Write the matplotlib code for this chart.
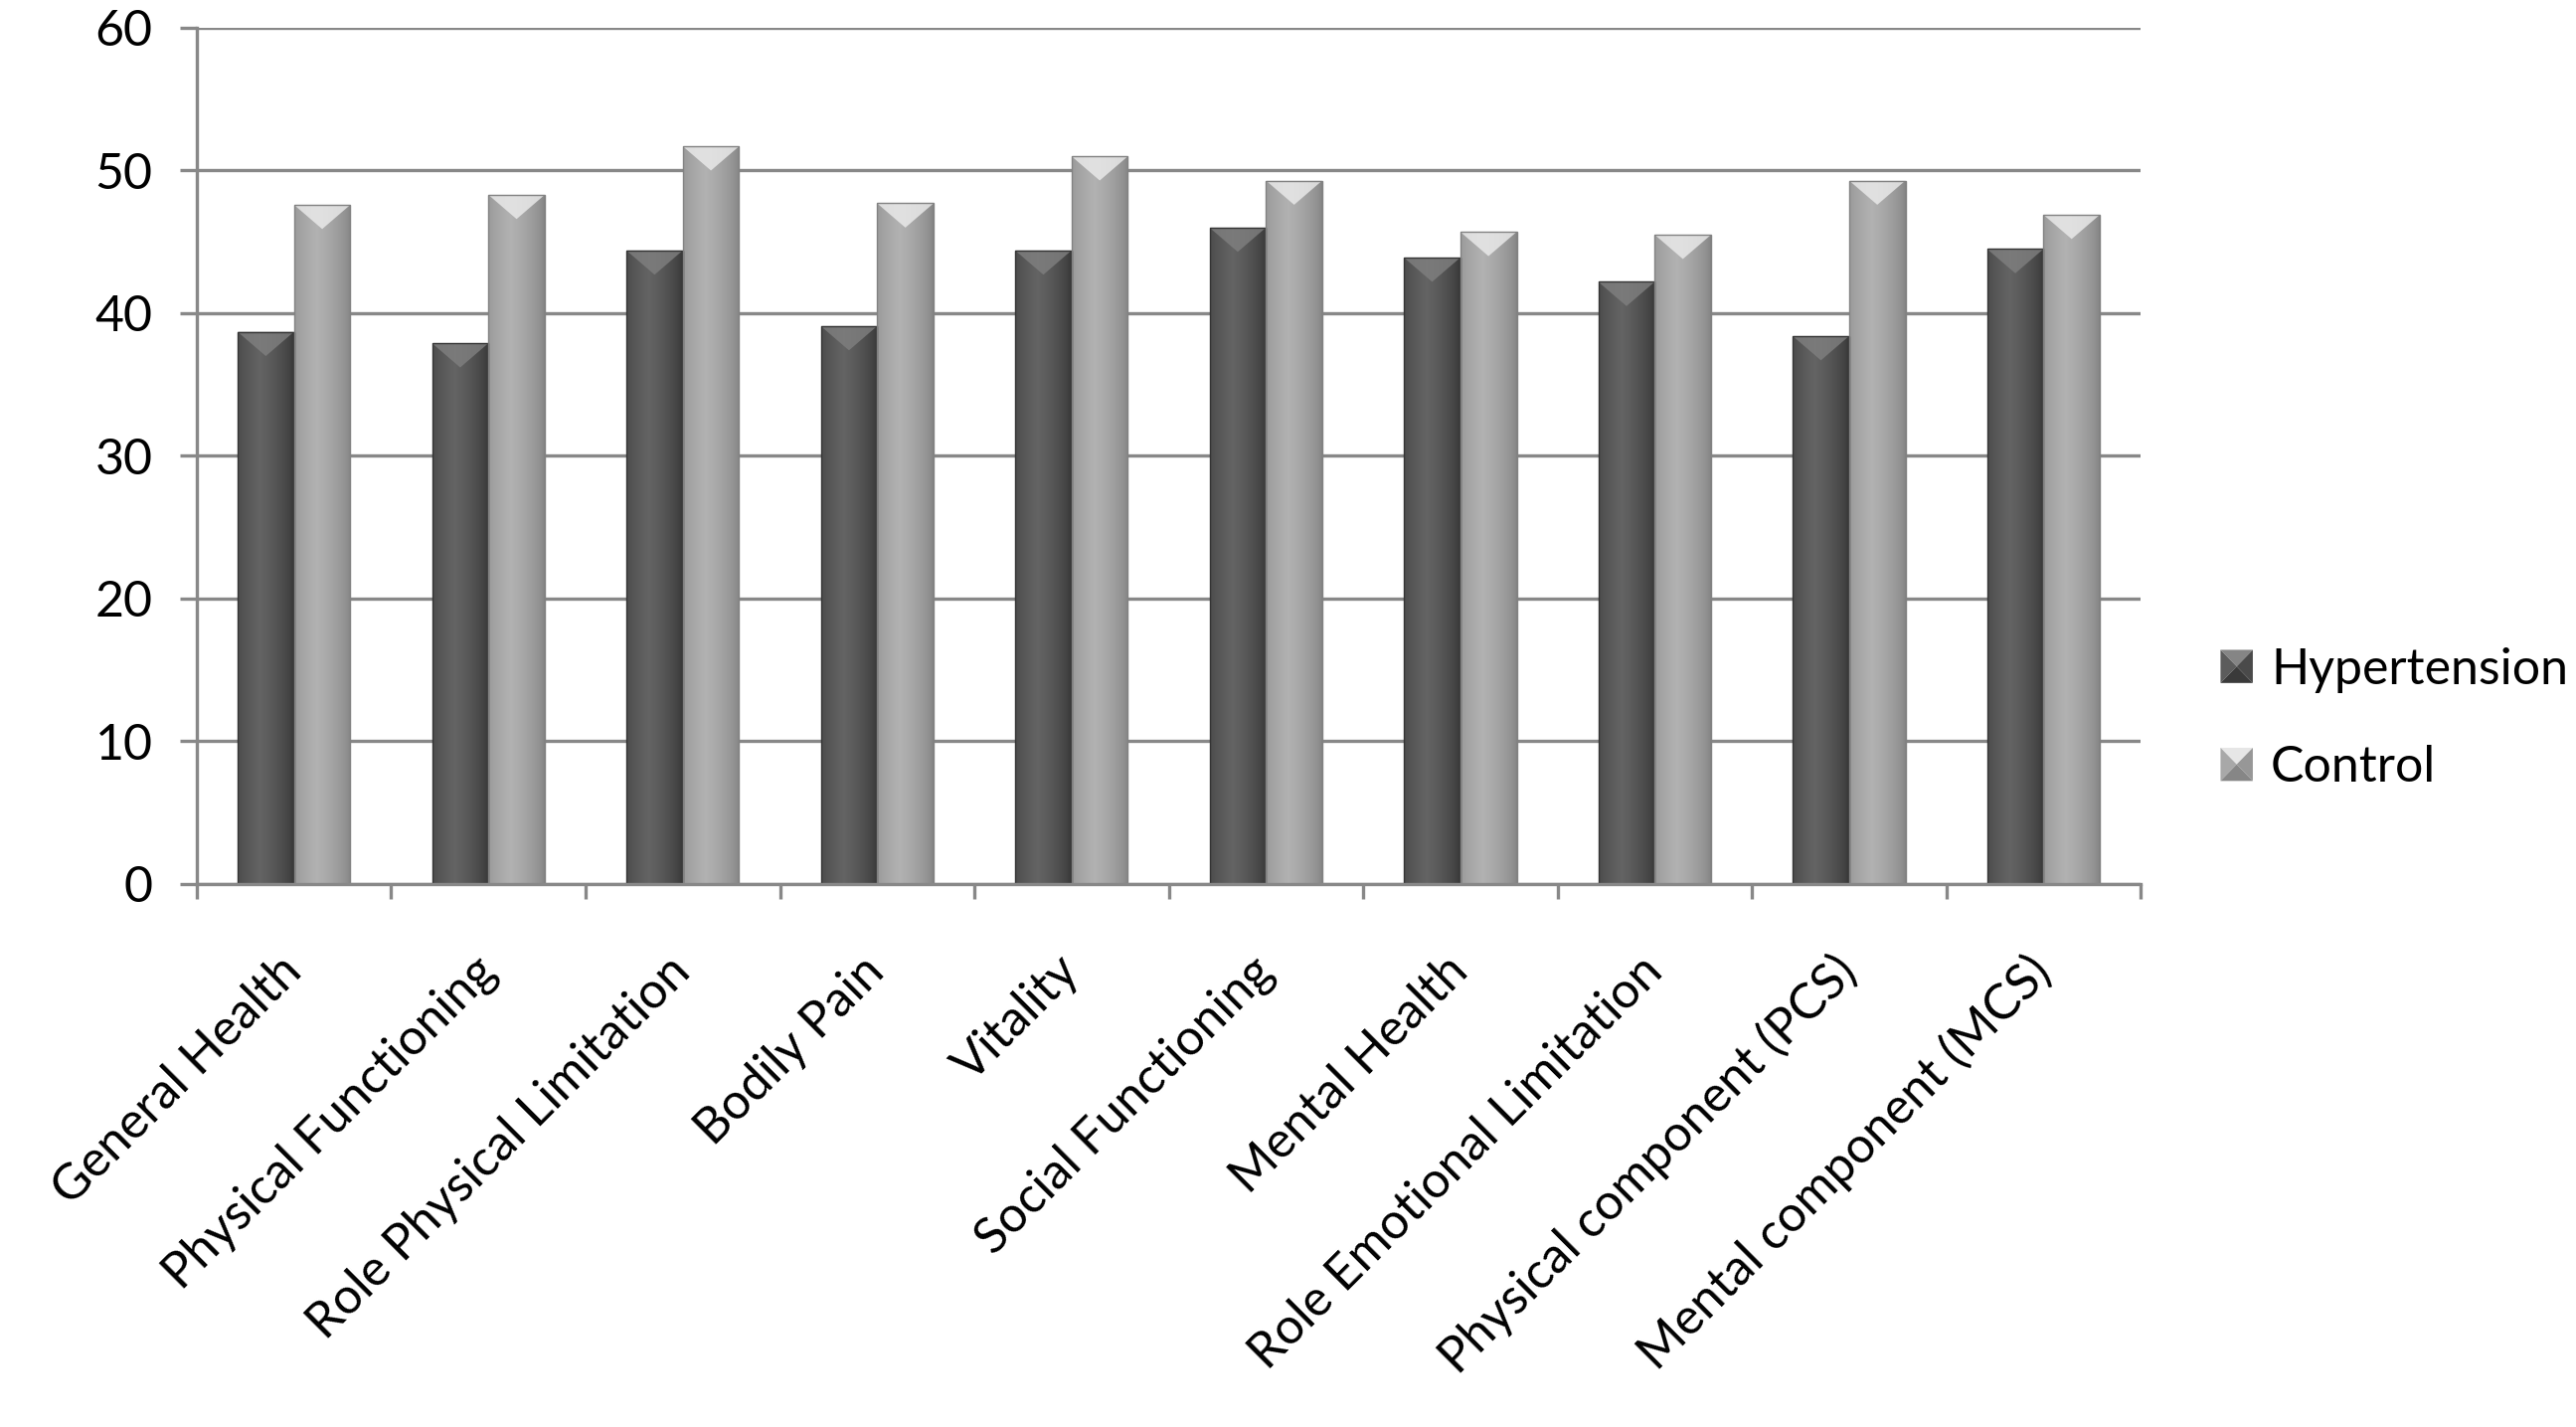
import matplotlib

matplotlib.use("Agg")

import matplotlib.pyplot as plt
import numpy as np
from matplotlib.legend_handler import HandlerPatch
from matplotlib.patches import Polygon, Rectangle

categories = [
    "General Health",
    "Physical Functioning",
    "Role Physical Limitation",
    "Bodily Pain",
    "Vitality",
    "Social Functioning",
    "Mental Health",
    "Role Emotional Limitation",
    "Physical component (PCS)",
    "Mental component (MCS)",
]
hypertension = [38.7, 37.9, 44.4, 39.1, 44.4, 46.0, 43.9, 42.2, 38.4, 44.5]
control = [47.6, 48.3, 51.7, 47.7, 51.0, 49.3, 45.7, 45.5, 49.3, 46.9]
series_names = ["Hypertension", "Control"]
y_ticks = [0, 10, 20, 30, 40, 50, 60]

plt.rcParams["font.family"] = ["Lato", "DejaVu Sans"]

# shading per series: (edge, highlight, bevel top, legend facets)
styles = {
    "Hypertension": dict(edge="#343434", light="#646464", cap="#808080",
                         facets=("#858585", "#5c5c5c", "#4a4a4a", "#3a3a3a")),
    "Control": dict(edge="#828282", light="#b2b2b2", cap="#ededed",
                    facets=("#e6e6e6", "#a8a8a8", "#979797", "#868686")),
}


def shaded_bar(ax, x0, width, height, st):
    rect = Rectangle((x0, 0), width, height, facecolor="none", edgecolor="none")
    ax.add_patch(rect)
    pos = np.linspace(0, 1, 64)
    prof = 1 - np.abs(pos - 0.4) / 0.6
    prof = np.clip(prof, 0, 1) ** 0.6
    c0 = np.array(matplotlib.colors.to_rgb(st["edge"]))
    c1 = np.array(matplotlib.colors.to_rgb(st["light"]))
    img = (c0[None, :] + (c1 - c0)[None, :] * prof[:, None])[None, :, :]
    im = ax.imshow(img, extent=(x0, x0 + width, 0, height), aspect="auto",
                   interpolation="bilinear", zorder=2)
    im.set_clip_path(rect)
    depth = 1.7
    cap = Polygon([(x0, height), (x0 + width, height), (x0 + width / 2, height - depth)],
                  closed=True, facecolor=st["cap"], edgecolor="none", zorder=3, alpha=0.8)
    ax.add_patch(cap)
    ax.add_patch(Rectangle((x0, 0), width, height, facecolor="none",
                           edgecolor=st["edge"], linewidth=1.0, zorder=4))


class PyramidHandler(HandlerPatch):
    def create_artists(self, legend, orig_handle, xdescent, ydescent, width, height, fontsize, trans):
        top, left, right, bottom = orig_handle.facets
        x0, y0 = -xdescent, -ydescent
        x1, y1 = x0 + width, y0 + height
        cx, cy = (x0 + x1) / 2, (y0 + y1) / 2
        polys = [
            ([(x0, y1), (x1, y1), (cx, cy)], top),
            ([(x0, y0), (x0, y1), (cx, cy)], left),
            ([(x1, y0), (x1, y1), (cx, cy)], right),
            ([(x0, y0), (x1, y0), (cx, cy)], bottom),
        ]
        arts = []
        for pts, col in polys:
            p = Polygon(pts, closed=True, facecolor=col, edgecolor="none", transform=trans)
            arts.append(p)
        return arts


fig = plt.figure(figsize=(25.91, 14.35), dpi=100)
ax = fig.add_axes([0.0764, 0.3805, 0.831 - 0.0764, 0.9805 - 0.3805])

x = np.arange(len(categories))
bw = 0.29
handles = []
for values, name, off in [(hypertension, series_names[0], -bw), (control, series_names[1], 0.0)]:
    st = styles[name]
    for xi, v in zip(x, values):
        shaded_bar(ax, xi + off, bw, v, st)
    h = Rectangle((0, 0), 1, 1, label=name)
    h.facets = st["facets"]
    handles.append(h)

ax.set_xlim(-0.5, len(categories) - 0.5)
ax.set_ylim(0, 60)
ax.set_yticks(y_ticks)
ax.yaxis.grid(True, color="#888888", linewidth=2.4)
ax.set_axisbelow(True)
for side in ["top", "right"]:
    ax.spines[side].set_visible(False)
for side in ["left", "bottom"]:
    ax.spines[side].set_color("#888888")
    ax.spines[side].set_linewidth(2.4)
    ax.spines[side].set_zorder(5)

ax.tick_params(axis="y", length=12, width=2.4, color="#888888", labelsize=36, pad=20)
ax.set_xticks(x)
ax.set_xticklabels(categories, rotation=45, ha="right", va="center", rotation_mode="anchor")
ax.tick_params(axis="x", length=0, labelsize=36, pad=58)
ax.set_xticks(np.arange(-0.5, len(categories)), minor=True)
ax.tick_params(axis="x", which="minor", length=11, width=2.4, color="#888888")

fig.legend(handles=handles, labels=series_names, loc="center left",
           bbox_to_anchor=(0.862, 0.4962), frameon=False, fontsize=36,
           handlelength=0.65, handleheight=0.65, handletextpad=0.36,
           labelspacing=1.05, borderaxespad=0, borderpad=0,
           handler_map={Rectangle: PyramidHandler()})

fig.savefig("out.png", dpi=100)
plt.close(fig)
